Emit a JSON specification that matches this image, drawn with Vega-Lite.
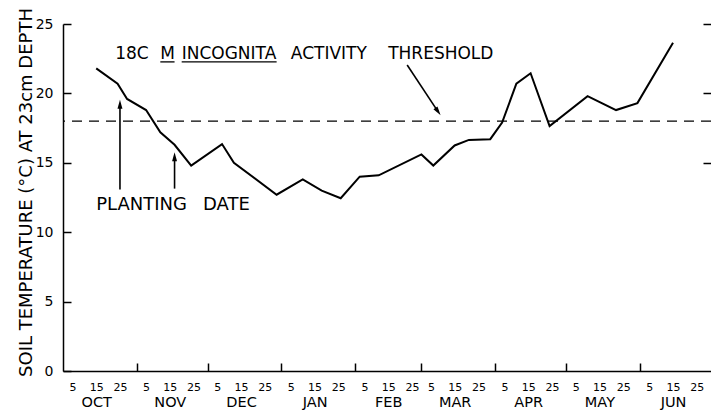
{
  "$schema": "https://vega.github.io/schema/vega-lite/v6.json",
  "width": 648,
  "height": 347,
  "autosize": {"type": "none"},
  "padding": {"left": 63, "top": 24, "right": 0, "bottom": 43},
  "background": "white",
  "config": {
    "view": {"stroke": null},
    "font": "DejaVu Sans",
    "axis": {"domainColor": "#000", "tickColor": "#000", "labelColor": "#000", "titleColor": "#000", "grid": false, "labelFont": "DejaVu Sans", "titleFont": "DejaVu Sans"}
  },
  "datasets": {
    "temps": [
      {"date": "1980-10-15", "temp": 21.8},
      {"date": "1980-10-24", "temp": 20.7},
      {"date": "1980-10-28", "temp": 19.6},
      {"date": "1980-11-05", "temp": 18.8},
      {"date": "1980-11-11", "temp": 17.2},
      {"date": "1980-11-17", "temp": 16.3},
      {"date": "1980-11-24", "temp": 14.8},
      {"date": "1980-12-07", "temp": 16.35},
      {"date": "1980-12-12", "temp": 15.0},
      {"date": "1980-12-30", "temp": 12.7},
      {"date": "1981-01-10", "temp": 13.8},
      {"date": "1981-01-18", "temp": 13.0},
      {"date": "1981-01-26", "temp": 12.45},
      {"date": "1981-02-03", "temp": 14.0},
      {"date": "1981-02-11", "temp": 14.1},
      {"date": "1981-03-01", "temp": 15.6},
      {"date": "1981-03-06", "temp": 14.8},
      {"date": "1981-03-15", "temp": 16.25},
      {"date": "1981-03-21", "temp": 16.65},
      {"date": "1981-03-30", "temp": 16.7},
      {"date": "1981-04-04", "temp": 17.9},
      {"date": "1981-04-10", "temp": 20.7},
      {"date": "1981-04-16", "temp": 21.45},
      {"date": "1981-04-24", "temp": 17.65},
      {"date": "1981-05-10", "temp": 19.8},
      {"date": "1981-05-22", "temp": 18.8},
      {"date": "1981-05-31", "temp": 19.3},
      {"date": "1981-06-15", "temp": 23.65}
    ],
    "shafts": [
      {"date": "1980-10-25", "dateEnd": "1980-10-25", "from": 13.07, "to": 19.2},
      {"date": "1980-11-17", "dateEnd": "1980-11-17", "from": 13.14, "to": 15.4},
      {"date": "1981-02-23", "dateEnd": "1981-03-08", "from": 22.05, "to": 18.69}
    ],
    "plantingHeads": [
      {"date": "1980-10-25", "temp": 19.21},
      {"date": "1980-11-17", "temp": 15.43}
    ],
    "thresholdHead": [
      {"date": "1981-03-08", "temp": 18.69}
    ],
    "thresholdWords": [
      {"date": "1980-10-23", "temp": 22.48, "word": "18C"},
      {"date": "1980-11-11", "temp": 22.48, "word": "M"},
      {"date": "1980-11-20", "temp": 22.48, "word": "INCOGNITA"},
      {"date": "1981-01-05", "temp": 22.48, "word": "ACTIVITY"},
      {"date": "1981-02-15", "temp": 22.48, "word": "THRESHOLD"}
    ],
    "underlines": [
      {"date": "1980-11-11", "dateEnd": "1980-11-17", "temp": 22.27},
      {"date": "1980-11-20", "dateEnd": "1980-12-30", "temp": 22.27}
    ],
    "plantingWords": [
      {"date": "1980-10-15", "temp": 11.62, "word": "PLANTING"},
      {"date": "1980-11-29", "temp": 11.62, "word": "DATE"}
    ],
    "threshold": [{"temp": 18}]
  },
  "layer": [
    {
      "data": {"name": "threshold"},
      "mark": {"type": "rule", "color": "#000", "strokeWidth": 1.3, "strokeDash": [10, 7]},
      "encoding": {
        "y": {"field": "temp", "type": "quantitative", "scale": {"domain": [0, 25], "nice": false}, "axis": null}
      }
    },
    {
      "data": {"name": "temps"},
      "mark": {"type": "line", "color": "#000", "strokeWidth": 2},
      "encoding": {
        "x": {
          "field": "date", "type": "temporal",
          "scale": {"type": "utc", "domain": [{"year": 1980, "month": 10, "date": 1, "utc": true}, {"year": 1981, "month": 7, "date": 1, "utc": true}]},
          "axis": {
            "orient": "bottom", "title": null, "ticks": false, "domain": true, "domainWidth": 1.5,
            "labelFontSize": 11, "labelPadding": 10, "labelOverlap": false, "labelFlush": false,
            "labelExpr": "utcFormat(datum.value, '%-d')",
            "values": [
              {"year": 1980, "month": 10, "date": 5, "utc": true}, {"year": 1980, "month": 10, "date": 15, "utc": true}, {"year": 1980, "month": 10, "date": 25, "utc": true},
              {"year": 1980, "month": 11, "date": 5, "utc": true}, {"year": 1980, "month": 11, "date": 15, "utc": true}, {"year": 1980, "month": 11, "date": 25, "utc": true},
              {"year": 1980, "month": 12, "date": 5, "utc": true}, {"year": 1980, "month": 12, "date": 15, "utc": true}, {"year": 1980, "month": 12, "date": 25, "utc": true},
              {"year": 1981, "month": 1, "date": 5, "utc": true}, {"year": 1981, "month": 1, "date": 15, "utc": true}, {"year": 1981, "month": 1, "date": 25, "utc": true},
              {"year": 1981, "month": 2, "date": 5, "utc": true}, {"year": 1981, "month": 2, "date": 15, "utc": true}, {"year": 1981, "month": 2, "date": 25, "utc": true},
              {"year": 1981, "month": 3, "date": 5, "utc": true}, {"year": 1981, "month": 3, "date": 15, "utc": true}, {"year": 1981, "month": 3, "date": 25, "utc": true},
              {"year": 1981, "month": 4, "date": 5, "utc": true}, {"year": 1981, "month": 4, "date": 15, "utc": true}, {"year": 1981, "month": 4, "date": 25, "utc": true},
              {"year": 1981, "month": 5, "date": 5, "utc": true}, {"year": 1981, "month": 5, "date": 15, "utc": true}, {"year": 1981, "month": 5, "date": 25, "utc": true},
              {"year": 1981, "month": 6, "date": 5, "utc": true}, {"year": 1981, "month": 6, "date": 15, "utc": true}, {"year": 1981, "month": 6, "date": 25, "utc": true}
            ]
          }
        },
        "y": {
          "field": "temp", "type": "quantitative", "scale": {"domain": [0, 25], "nice": false},
          "axis": {
            "orient": "left", "title": "SOIL TEMPERATURE (°C) AT 23cm DEPTH", "values": [0, 5, 10, 15, 20, 25],
            "ticks": false, "domainWidth": 1.5, "labelFontSize": 14, "labelPadding": 10,
            "titleFontSize": 18, "titleFontWeight": "normal", "titlePadding": 0, "titleY": 168
          }
        }
      }
    },
    {
      "data": {"name": "shafts"},
      "mark": {"type": "rule", "color": "#000", "strokeWidth": 1.6},
      "encoding": {
        "x": {
          "field": "date", "type": "temporal",
          "axis": {
            "orient": "bottom", "title": null, "labels": false, "domain": false, "ticks": true, "tickSize": -8, "tickWidth": 1.5,
            "values": [
              {"year": 1980, "month": 11, "date": 1, "utc": true}, {"year": 1980, "month": 12, "date": 1, "utc": true},
              {"year": 1981, "month": 1, "date": 1, "utc": true}, {"year": 1981, "month": 2, "date": 1, "utc": true},
              {"year": 1981, "month": 3, "date": 1, "utc": true}, {"year": 1981, "month": 4, "date": 1, "utc": true},
              {"year": 1981, "month": 5, "date": 1, "utc": true}, {"year": 1981, "month": 6, "date": 1, "utc": true}
            ]
          }
        },
        "x2": {"field": "dateEnd"},
        "y": {
          "field": "from", "type": "quantitative",
          "axis": {"orient": "right", "title": null, "labels": false, "domain": false, "ticks": true, "tickSize": -8, "tickWidth": 1.5, "values": [15, 20, 25]}
        },
        "y2": {"field": "to"}
      }
    },
    {
      "data": {"name": "thresholdWords"},
      "mark": {"type": "text", "align": "left", "baseline": "alphabetic", "fontSize": 17, "font": "DejaVu Sans", "color": "#000"},
      "encoding": {
        "x": {
          "field": "date", "type": "temporal",
          "axis": {
            "orient": "bottom", "title": null, "ticks": false, "domain": false,
            "labelFontSize": 14.5, "labelPadding": 24, "labelOverlap": false, "labelFlush": false,
            "labelExpr": "upper(utcFormat(datum.value, '%b'))",
            "values": [
              {"year": 1980, "month": 10, "date": 15, "utc": true}, {"year": 1980, "month": 11, "date": 15, "utc": true},
              {"year": 1980, "month": 12, "date": 15, "utc": true}, {"year": 1981, "month": 1, "date": 15, "utc": true},
              {"year": 1981, "month": 2, "date": 15, "utc": true}, {"year": 1981, "month": 3, "date": 15, "utc": true},
              {"year": 1981, "month": 4, "date": 15, "utc": true}, {"year": 1981, "month": 5, "date": 15, "utc": true},
              {"year": 1981, "month": 6, "date": 15, "utc": true}
            ]
          }
        },
        "y": {
          "field": "temp", "type": "quantitative",
          "axis": {"orient": "left", "title": null, "labels": false, "domain": false, "ticks": true, "tickSize": -8, "tickWidth": 1.5, "values": [0, 5, 10, 15, 20, 25]}
        },
        "text": {"field": "word"}
      }
    },
    {
      "data": {"name": "plantingWords"},
      "mark": {"type": "text", "align": "left", "baseline": "alphabetic", "fontSize": 18, "font": "DejaVu Sans", "color": "#000"},
      "encoding": {
        "x": {"field": "date", "type": "temporal", "axis": null},
        "y": {"field": "temp", "type": "quantitative", "axis": null},
        "text": {"field": "word"}
      }
    },
    {
      "data": {"name": "underlines"},
      "mark": {"type": "rule", "color": "#000", "strokeWidth": 1.3},
      "encoding": {
        "x": {"field": "date", "type": "temporal", "axis": null},
        "x2": {"field": "dateEnd"},
        "y": {"field": "temp", "type": "quantitative", "axis": null}
      }
    },
    {
      "data": {"name": "plantingHeads"},
      "mark": {"type": "point", "shape": "M0,-1L0.55,1L-0.55,1Z", "size": 81, "filled": true, "color": "#000", "opacity": 1, "angle": 0},
      "encoding": {
        "x": {"field": "date", "type": "temporal", "axis": null},
        "y": {"field": "temp", "type": "quantitative", "axis": null}
      }
    },
    {
      "data": {"name": "thresholdHead"},
      "mark": {"type": "point", "shape": "M0,-1L0.55,1L-0.55,1Z", "size": 81, "filled": true, "color": "#000", "opacity": 1, "angle": 145},
      "encoding": {
        "x": {"field": "date", "type": "temporal", "axis": null},
        "y": {"field": "temp", "type": "quantitative", "axis": null}
      }
    }
  ],
  "resolve": {"axis": {"x": "independent", "y": "independent"}}
}
